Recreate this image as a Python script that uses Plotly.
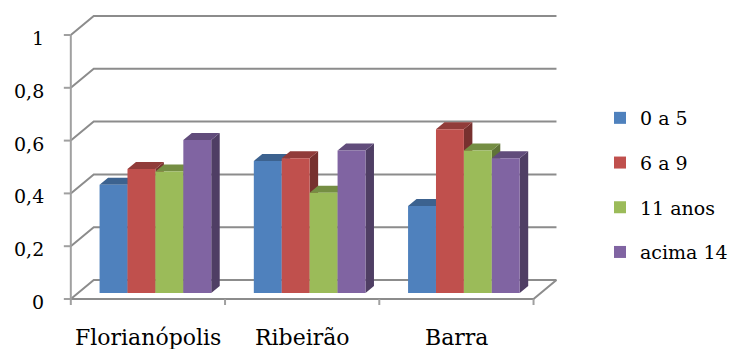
import plotly.graph_objects as go

# ---- data -------------------------------------------------------------
categories = ["Florianópolis", "Ribeirão", "Barra"]
series_names = ["0 a 5", "6 a 9", "11 anos", "acima 14"]
vals_0a5 = [0.41, 0.50, 0.33]
vals_6a9 = [0.47, 0.51, 0.62]
vals_11anos = [0.46, 0.38, 0.54]
vals_acima14 = [0.58, 0.54, 0.51]
y_tick_vals = [0, 0.2, 0.4, 0.6, 0.8, 1]
y_tick_text = ["0", "0,2", "0,4", "0,6", "0,8", "1"]

series_values = [vals_0a5, vals_6a9, vals_11anos, vals_acima14]

# ---- styling ----------------------------------------------------------
front_colors = ["#4F81BD", "#C0504D", "#9BBB59", "#8064A2"]
grid_color = "#8C8C8C"
axis_color = "#A0A0A0"
FONT = "'DejaVu Serif', 'Liberation Serif', serif"

W, H = 733, 349
# screen geometry of the oblique projection (pixels)
X_FRONT_PX = 71.0          # left edge of front plane (category -0.5)
UNIT_X_PX = 154.667        # pixels per category
Y_ZERO_PX = 299.0          # value 0 on the front plane
UNIT_Y_PX = 264.0          # pixels per value unit

def dx(px):
    return px / UNIT_X_PX

def dy(px):
    return px / UNIT_Y_PX

x_lo = -0.5 - dx(X_FRONT_PX)
x_hi = -0.5 + dx(W - X_FRONT_PX)
y_lo = -dy(H - Y_ZERO_PX)
y_hi = dy(Y_ZERO_PX)

WALL_DX, WALL_DY = dx(23), dy(19)      # back wall offset
BAR_DX, BAR_DY = dx(7.5), dy(6)        # bar front plane offset
SIDE_DX, SIDE_DY = dx(8.5), dy(7)      # bar depth
GROUP_W = 0.724
BAR_W = GROUP_W / len(series_names)
n_cat = len(categories)
x_left, x_right = -0.5, n_cat - 0.5


def shade(hex_color, f):
    h = hex_color.lstrip("#")
    r, g, b = (int(h[i:i + 2], 16) for i in (0, 2, 4))
    return "rgb({},{},{})".format(int(r * f), int(g * f), int(b * f))


fig = go.Figure()

# ---- walls, floor, grid ----------------------------------------------
gx, gy = [], []
for v in y_tick_vals:
    # left wall diagonal + back wall gridline
    gx += [x_left, x_left + WALL_DX, x_right + WALL_DX, None]
    gy += [v, v + WALL_DY, v + WALL_DY, None]
# floor front edge and right edge
gx += [x_left, x_right, x_right + WALL_DX, None]
gy += [0, 0, WALL_DY, None]
fig.add_trace(go.Scatter(x=gx, y=gy, mode="lines",
                         line=dict(color=grid_color, width=2),
                         hoverinfo="skip", showlegend=False))

ax_x, ax_y = [], []
# vertical value axis on the front plane
ax_x += [x_left, x_left, None]
ax_y += [1, -dy(6), None]
for v in y_tick_vals:
    ax_x += [x_left - dx(7), x_left, None]
    ax_y += [v, v, None]
for k in range(1, n_cat + 1):
    xb = x_left + k
    ax_x += [xb, xb, None]
    ax_y += [0, -dy(6), None]
fig.add_trace(go.Scatter(x=ax_x, y=ax_y, mode="lines",
                         line=dict(color=axis_color, width=2),
                         hoverinfo="skip", showlegend=False))

# ---- bar side and top faces (drawn beneath the front faces) ----------
for j, (name, vals) in enumerate(zip(series_names, series_values)):
    sx, sy, tx, ty = [], [], [], []
    for i, v in enumerate(vals):
        left = i - GROUP_W / 2 + j * BAR_W + BAR_DX
        right = left + BAR_W
        base = BAR_DY
        top = BAR_DY + v
        sx += [right, right, right + SIDE_DX, right + SIDE_DX, right, None]
        sy += [base, top, top + SIDE_DY, base + SIDE_DY, base, None]
        tx += [left, right, right + SIDE_DX, left + SIDE_DX, left, None]
        ty += [top, top, top + SIDE_DY, top + SIDE_DY, top, None]
    fig.add_trace(go.Scatter(x=sx, y=sy, mode="lines", fill="toself",
                             fillcolor=shade(front_colors[j], 0.62),
                             line=dict(width=0), hoverinfo="skip",
                             showlegend=False))
    fig.add_trace(go.Scatter(x=tx, y=ty, mode="lines", fill="toself",
                             fillcolor=shade(front_colors[j], 0.76),
                             line=dict(width=0), hoverinfo="skip",
                             showlegend=False))

# ---- bar front faces --------------------------------------------------
for j, (name, vals) in enumerate(zip(series_names, series_values)):
    fig.add_trace(go.Bar(
        x=categories, y=vals, base=BAR_DY, name=name,
        xaxis="x2", yaxis="y",
        offset=-GROUP_W / 2 + j * BAR_W + BAR_DX, width=BAR_W,
        marker=dict(color=front_colors[j], line=dict(width=0)),
        legendgroup=name,
    ))

# ---- tick labels ------------------------------------------------------
annotations = []
for v, t in zip(y_tick_vals, y_tick_text):
    annotations.append(dict(x=x_left, y=v, xref="x", yref="y", text=t,
                            showarrow=False, xanchor="right", yanchor="middle",
                            xshift=-25, yshift=-3,
                            font=dict(family=FONT, size=19, color="black")))
for i, c in enumerate(categories):
    annotations.append(dict(x=i, y=-dy(38), xref="x", yref="y", text=c,
                            showarrow=False, xanchor="center", yanchor="middle",
                            font=dict(family=FONT, size=22, color="black")))

fig.update_layout(
    width=W, height=H,
    margin=dict(l=0, r=0, t=0, b=0),
    paper_bgcolor="white", plot_bgcolor="white",
    xaxis=dict(range=[x_lo, x_hi], visible=False, fixedrange=True),
    xaxis2=dict(type="category", categoryorder="array",
                categoryarray=categories, range=[x_lo, x_hi],
                overlaying="x", anchor="y", visible=False, fixedrange=True),
    yaxis=dict(range=[y_lo, y_hi], visible=False, fixedrange=True),
    barmode="overlay",
    showlegend=True,
    legend=dict(x=602 / W, y=1 - 99 / H, xanchor="left", yanchor="top",
                font=dict(family=FONT, size=19, color="black"),
                tracegroupgap=17, bgcolor="rgba(0,0,0,0)",
                traceorder="grouped"),
    annotations=annotations,
)

fig.write_html("out.html")
